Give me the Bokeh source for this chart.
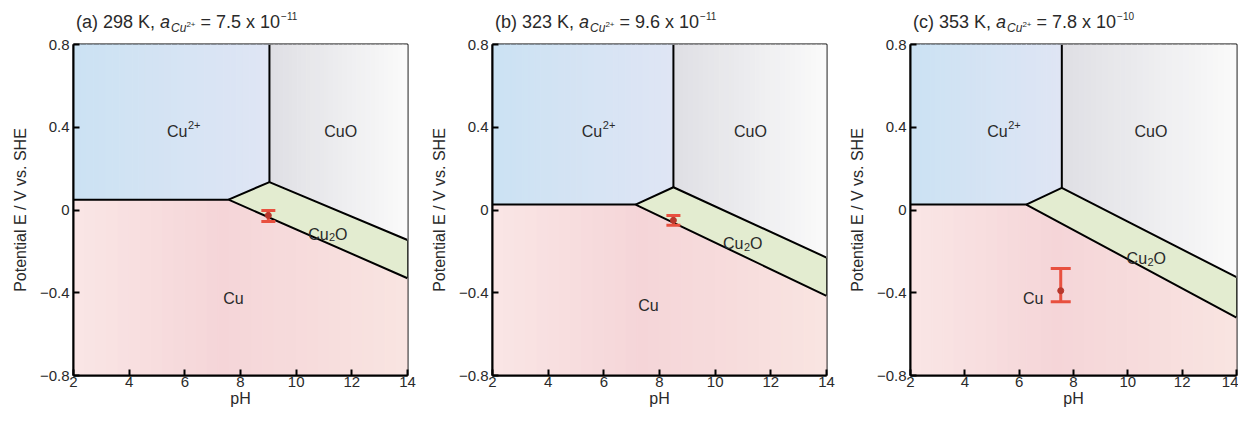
import numpy as np
from bokeh.plotting import figure
from bokeh.layouts import row, column
from bokeh.models import Label, FixedTicker, ColumnDataSource, Range1d, Div
from bokeh.embed import file_html
from bokeh.resources import INLINE

# ---------------- data ----------------
panel_tags = ["(a)", "(b)", "(c)"]
temperatures = ["298 K", "323 K", "353 K"]
activity_mantissa = ["7.5", "9.6", "7.8"]
activity_exponent = ["\u221211", "\u221211", "\u221210"]

# Pourbaix boundaries (pH, E / V vs SHE)
cu2_cu_E = [0.05, 0.026, 0.026]          # Cu2+/Cu horizontal boundary
cu2_cu_end_pH = [7.57, 7.14, 6.26]       # where it meets Cu2O
triple_pH = [9.04, 8.50, 7.57]           # Cu2+/CuO/Cu2O triple point
triple_E = [0.135, 0.11, 0.107]
cuo_cu2o_E_at14 = [-0.145, -0.23, -0.325]  # CuO/Cu2O line at pH 14
cu2o_cu_E_at14 = [-0.33, -0.415, -0.52]    # Cu2O/Cu line at pH 14

# measured potentials (error bars)
meas_pH = [9.0, 8.5, 7.53]
meas_E = [-0.026, -0.05, -0.39]
meas_low = [-0.055, -0.074, -0.444]
meas_high = [-0.002, -0.026, -0.283]

# region label positions
lab_cu2_pH = [5.95, 5.8, 5.43]
lab_cuo_pH = [11.6, 11.27, 10.85]
lab_top_E = [0.41, 0.41, 0.41]
lab_cu_pH = [7.75, 7.6, 6.52]
lab_cu_E = [-0.40, -0.435, -0.40]
lab_cu2o_pH = [11.13, 10.98, 10.67]
lab_cu2o_E = [-0.088, -0.135, -0.207]

x_ticks = [2, 4, 6, 8, 10, 12, 14]
y_ticks = [-0.8, -0.4, 0, 0.4, 0.8]
y_tick_labels = {-0.8: "\u22120.8", -0.4: "\u22120.4", 0: "0", 0.4: "0.4", 0.8: "0.8"}

pH_min, pH_max = 2, 14
E_min, E_max = -0.8, 0.8

# ---------------- styling ----------------
FONT = "Liberation Sans"
TXT = "#2a2a2a"
C_CU2O = "#e3ecd0"
RED = "#e8503f"
GRAD_CU2 = [(0.0, (0xcb, 0xe2, 0xf3)), (1.0, (0xdf, 0xe5, 0xf4))]
GRAD_CUO = [(0.0, (0xdf, 0xdf, 0xe4)), (1.0, (0xfa, 0xfa, 0xfa))]
GRAD_CU = [(0.0, (0xfa, 0xe6, 0xe5)), (0.45, (0xf5, 0xd5, 0xd8)), (1.0, (0xf9, 0xe4, 0xe1))]
cap_sizes = [14, 14, 20]

widths = [420, 418, 400]
left_borders = [73, 72, 72]
right_borders = [13, 12, 2]
TITLE_H = 34
MAIN_H = 409 - TITLE_H


def grad_color(stops, f):
    fs = [s[0] for s in stops]
    rgb = [int(round(np.interp(f, fs, [s[1][k] for s in stops]))) for k in range(3)]
    return "#%02x%02x%02x" % tuple(rgb)


def strips(p, x_lo, x_hi, top_xy, bot_xy, stops, n=30):
    edges = set(np.linspace(x_lo, x_hi, n + 1).tolist())
    edges |= {x for x in list(top_xy[0]) + list(bot_xy[0]) if x_lo < x < x_hi}
    edges = sorted(edges)
    xs, ys, cols = [], [], []
    for x0, x1 in zip(edges[:-1], edges[1:]):
        t0, t1 = np.interp([x0, x1], top_xy[0], top_xy[1])
        b0, b1 = np.interp([x0, x1], bot_xy[0], bot_xy[1])
        xs.append([x0, x1, x1, x0])
        ys.append([t0, t1, b1, b0])
        cols.append(grad_color(stops, ((x0 + x1) / 2 - x_lo) / (x_hi - x_lo)))
    src = ColumnDataSource(dict(xs=xs, ys=ys, c=cols))
    p.patches("xs", "ys", source=src, fill_color="c", line_color="c", line_width=1)


def lbl(p, x, y, text, size, dx=0, dy=0, align="left", style="normal"):
    p.add_layout(Label(x=x, y=y, text=text, x_offset=dx, y_offset=dy, text_align=align,
                       text_baseline="alphabetic", text_font=FONT, text_font_size=size,
                       text_font_style=style, text_color=TXT))


cols = []
for i in range(3):
    W, L = widths[i], left_borders[i]

    # ---- title (HTML text so the sub/superscripts are real text) ----
    html = (
        f'<div style="margin-left:{L + 3}px; margin-top:12px; white-space:nowrap; '
        f'font-family:\'{FONT}\'; font-size:18px; line-height:20px; color:{TXT};">'
        f'{panel_tags[i]} {temperatures[i]}, <i>a</i>'
        f'<span style="font-size:12px; font-style:italic; position:relative; top:4px; '
        f'line-height:0; margin-left:1px;">Cu<span style="font-size:8px; position:relative; '
        f'top:-5px; font-style:normal;">2+</span></span>'
        f' = {activity_mantissa[i]} x 10'
        f'<span style="font-size:10px; position:relative; top:-8px; line-height:0; '
        f'margin-left:1px;">{activity_exponent[i]}</span></div>'
    )
    t = Div(text=html, width=W, height=TITLE_H, margin=0)

    # ---- main plot ----
    p = figure(width=W, height=MAIN_H, output_backend="svg", toolbar_location=None,
               x_range=Range1d(pH_min, pH_max), y_range=Range1d(E_min, E_max),
               min_border_left=L, min_border_right=right_borders[i],
               min_border_top=10, min_border_bottom=30,
               background_fill_color="white", border_fill_color="white")
    p.grid.visible = False
    p.outline_line_color = "black"
    p.outline_line_width = 2

    hE, hpH = cu2_cu_E[i], cu2_cu_end_pH[i]
    tpH, tE = triple_pH[i], triple_E[i]
    uE, lE = cuo_cu2o_E_at14[i], cu2o_cu_E_at14[i]

    # regions (gradient strips)
    strips(p, pH_min, tpH, ([pH_min, tpH], [E_max, E_max]),
           ([pH_min, hpH, tpH], [hE, hE, tE]), GRAD_CU2)
    strips(p, tpH, pH_max, ([tpH, pH_max], [E_max, E_max]),
           ([tpH, pH_max], [tE, uE]), GRAD_CUO)
    strips(p, pH_min, pH_max, ([pH_min, hpH, pH_max], [hE, hE, lE]),
           ([pH_min, pH_max], [E_min, E_min]), GRAD_CU)
    p.patch([hpH, tpH, pH_max, pH_max], [hE, tE, uE, lE], fill_color=C_CU2O, line_color=None)

    # boundaries
    p.line([pH_min, hpH, pH_max], [hE, hE, lE], line_color="black", line_width=2)
    p.line([hpH, tpH, pH_max], [hE, tE, uE], line_color="black", line_width=2)
    p.line([tpH, tpH], [tE, E_max], line_color="black", line_width=2)

    # region labels (composed so sub/superscripts are legible)
    lbl(p, lab_cu2_pH[i], lab_top_E[i], "Cu", "16px", dx=4, dy=-6, align="right")
    lbl(p, lab_cu2_pH[i], lab_top_E[i], "2+", "11px", dx=4.5, dy=0)
    lbl(p, lab_cuo_pH[i], lab_top_E[i], "CuO", "16px", dy=-6, align="center")
    lbl(p, lab_cu_pH[i], lab_cu_E[i], "Cu", "16px", dy=-6, align="center")
    lbl(p, lab_cu2o_pH[i], lab_cu2o_E[i], "Cu", "16px", dx=1, dy=-6, align="right")
    lbl(p, lab_cu2o_pH[i], lab_cu2o_E[i], "2", "11px", dx=1.5, dy=-9)
    lbl(p, lab_cu2o_pH[i], lab_cu2o_E[i], "O", "16px", dx=7.5, dy=-6)

    # error bar
    src = ColumnDataSource(dict(x=[meas_pH[i]], lo=[meas_low[i]], hi=[meas_high[i]],
                                y=[meas_E[i]]))
    p.segment(x0="x", y0="lo", x1="x", y1="hi", source=src, line_color=RED, line_width=3)
    p.scatter(x="x", y="lo", source=src, marker="dash", size=cap_sizes[i],
              line_color=RED, line_width=3)
    p.scatter(x="x", y="hi", source=src, marker="dash", size=cap_sizes[i],
              line_color=RED, line_width=3)
    p.scatter(x="x", y="y", source=src, size=6, color="#b8372c")

    # axes
    p.xaxis.ticker = FixedTicker(ticks=x_ticks)
    p.yaxis.ticker = FixedTicker(ticks=y_ticks)
    p.yaxis.major_label_overrides = y_tick_labels
    for ax in (p.xaxis[0], p.yaxis[0]):
        ax.axis_line_color = "black"
        ax.axis_line_width = 2
        ax.major_tick_in = 6
        ax.major_tick_out = 0
        ax.major_tick_line_width = 2
        ax.major_tick_line_color = "black"
        ax.minor_tick_line_color = None
        ax.major_label_text_font = FONT
        ax.major_label_text_font_size = "15px"
        ax.major_label_text_color = TXT
        ax.axis_label_text_font = FONT
        ax.axis_label_text_font_size = "16px"
        ax.axis_label_text_font_style = "normal"
        ax.axis_label_text_color = TXT
    p.xaxis.axis_label = "pH"
    p.xaxis.major_label_standoff = 1
    p.xaxis.axis_label_standoff = 0
    p.yaxis.axis_label = "Potential E / V vs. SHE"
    p.yaxis.major_label_standoff = 4
    p.yaxis.axis_label_standoff = 8

    cols.append(column(t, p, spacing=0))

layout = row(*cols, spacing=0)
open("out.html", "w").write(file_html(layout, INLINE))
